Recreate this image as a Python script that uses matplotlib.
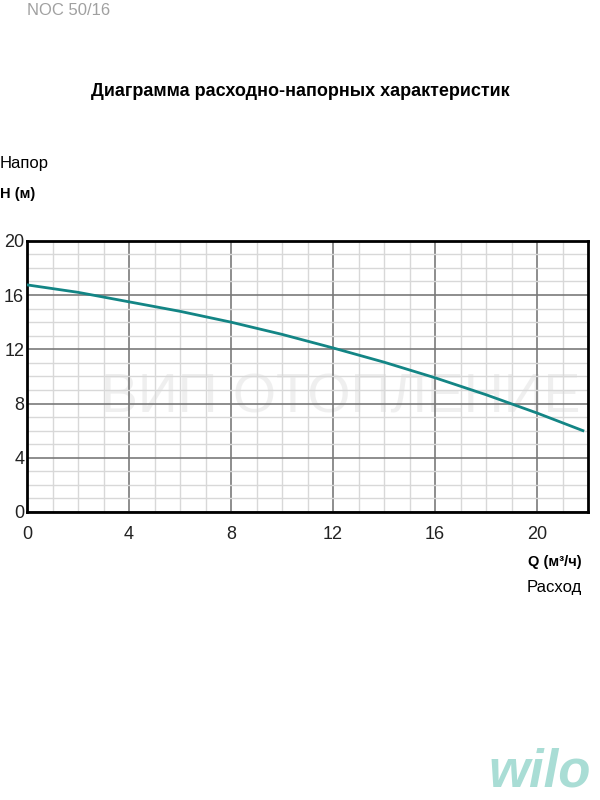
import numpy as np
import matplotlib.pyplot as plt
from matplotlib.ticker import MultipleLocator

# данные кривой (Q, м3/ч ; H, м)
q = [0, 2, 4, 6, 8, 10, 12, 14, 16, 18, 20, 21.8]
h = [16.75, 16.2, 15.5, 14.8, 14.0, 13.1, 12.1, 11.05, 9.9, 8.65, 7.3, 6.0]

xticks = [0, 4, 8, 12, 16, 20]
yticks = [0, 4, 8, 12, 16, 20]

plt.rcParams['font.family'] = ['Liberation Sans', 'DejaVu Sans']

fig = plt.figure(figsize=(6, 8), dpi=100)
ax = fig.add_axes([0.045, 0.36, 0.935, 0.339])

ax.plot(q, h, color='#138585', lw=2, zorder=3)

ax.set_xlim(0, 22)
ax.set_ylim(0, 20)
ax.set_xticks(xticks)
ax.set_yticks(yticks)
ax.xaxis.set_minor_locator(MultipleLocator(1))
ax.yaxis.set_minor_locator(MultipleLocator(1))
ax.grid(which='major', color='#7a7a7a', lw=1.2)
ax.grid(which='minor', color='#d8d8d8', lw=1)
ax.tick_params(which='both', length=0, labelsize=13, colors='#222222')
ax.tick_params(axis='x', pad=10)
ax.tick_params(axis='y', pad=2)
for s in ax.spines.values():
    s.set_color('black')
    s.set_linewidth(2)

# водяной знак
ax.text(0.56, 0.42, 'ВИП ОТОПЛЕНИЕ', transform=ax.transAxes, fontsize=40,
        color='#ececec', ha='center', va='center', zorder=1, alpha=0.8)

fig.text(0.045, 0.987, 'NOC 50/16', fontsize=12, color='#a0a0a0', va='center')
fig.text(0.5, 0.885, 'Диаграмма расходно-напорных характеристик',
         fontsize=13, fontweight='bold', ha='center', va='center')
fig.text(0.0, 0.796, 'Напор', fontsize=12, va='center')
fig.text(0.0, 0.758, 'H (м)', fontsize=10.5, fontweight='bold', va='center')
fig.text(0.97, 0.298, 'Q (м³/ч)', fontsize=10.5, fontweight='bold', ha='right', va='center')
fig.text(0.97, 0.266, 'Расход', fontsize=12, ha='right', va='center')
fig.text(0.985, 0.034, 'wilo', fontsize=38, fontweight='bold', style='italic',
         color='#a9ddd5', ha='right', va='center')

fig.savefig('out.png', dpi=100)
